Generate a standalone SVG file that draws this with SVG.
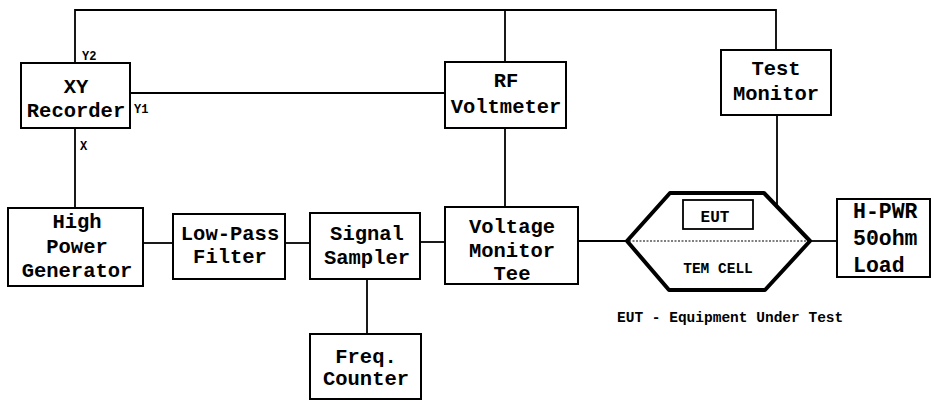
<svg xmlns="http://www.w3.org/2000/svg" width="932" height="401" viewBox="0 0 932 401">
<style>
.box{fill:#fff;stroke:#000;stroke-width:2}
.ln{fill:none;stroke:#000;stroke-width:1.8}
.dot{fill:none;stroke:#000;stroke-width:1.2;stroke-dasharray:2 1.5}
text{font-family:"Liberation Mono","DejaVu Sans Mono",monospace;font-weight:bold;fill:#000}
.t{font-size:20.5px;text-anchor:middle}
.s{font-size:12px}
.m{font-size:14.5px}
</style>
<rect width="932" height="401" fill="#fff"/>
<g id="connectors">
<polyline class="ln" points="75,63 75,10 776,10 776,50"/>
<line class="ln" x1="505" y1="10" x2="505" y2="62"/>
<line class="ln" x1="130" y1="93" x2="445" y2="93"/>
<line class="ln" x1="75" y1="128" x2="75" y2="208"/>
<line class="ln" x1="505" y1="128" x2="505" y2="207"/>
<line class="ln" x1="143" y1="243" x2="173" y2="243"/>
<line class="ln" x1="285" y1="243" x2="310" y2="243"/>
<line class="ln" x1="420" y1="242" x2="445" y2="242"/>
<line class="ln" x1="367" y1="279" x2="367" y2="334"/>
<line class="ln" x1="578" y1="241" x2="627" y2="241"/>
<line class="ln" x1="810" y1="241" x2="837" y2="241"/>
<line class="ln" x1="777" y1="115" x2="777" y2="206"/>
<line class="dot" x1="753" y1="212" x2="778" y2="212"/>
<text class="s" x="82" y="60">Y2</text>
<text class="s" x="134" y="113">Y1</text>
<text class="s" x="80" y="150">X</text>
</g>
<g id="xy-recorder">
<rect class="box" x="21" y="63" width="109" height="65"/>
<text class="t" x="76" y="93">XY</text>
<text class="t" x="76" y="117">Recorder</text>
</g>
<g id="rf-voltmeter">
<rect class="box" x="445" y="62" width="121" height="66"/>
<text class="t" x="506" y="87">RF</text>
<text class="t" x="506" y="113">Voltmeter</text>
</g>
<g id="test-monitor">
<rect class="box" x="721" y="50" width="110" height="65"/>
<text class="t" x="776" y="75">Test</text>
<text class="t" x="776" y="100">Monitor</text>
</g>
<g id="high-power-generator">
<rect class="box" x="8" y="208" width="135" height="78"/>
<text class="t" x="77" y="228">High</text>
<text class="t" x="77" y="253">Power</text>
<text class="t" x="77" y="277">Generator</text>
</g>
<g id="low-pass-filter">
<rect class="box" x="173" y="214" width="112" height="65"/>
<text class="t" x="230" y="240">Low-Pass</text>
<text class="t" x="230" y="263">Filter</text>
</g>
<g id="signal-sampler">
<rect class="box" x="310" y="213" width="110" height="66"/>
<text class="t" x="367" y="240">Signal</text>
<text class="t" x="367" y="264">Sampler</text>
</g>
<g id="freq-counter">
<rect class="box" x="310" y="334" width="111" height="65"/>
<text class="t" x="366" y="363">Freq.</text>
<text class="t" x="366" y="385">Counter</text>
</g>
<g id="voltage-monitor-tee">
<rect class="box" x="445" y="207" width="133" height="77"/>
<text class="t" x="512" y="233">Voltage</text>
<text class="t" x="512" y="257">Monitor</text>
<text class="t" x="512" y="280">Tee</text>
</g>
<g id="tem-cell">
<polygon points="627,241 670,193 764,193 810,241 765,290 669,290" fill="#fff" stroke="#000" stroke-width="4" stroke-linejoin="round"/>
<line class="dot" x1="629" y1="241" x2="808" y2="241"/>
<text class="m" x="718" y="273" text-anchor="middle">TEM CELL</text>
</g>
<g id="eut">
<rect x="683" y="200" width="70" height="29" fill="#fff" stroke="#000" stroke-width="1.8"/>
<text x="715" y="222" font-size="16" text-anchor="middle">EUT</text>
</g>
<g id="load">
<rect class="box" x="837" y="199" width="93" height="78"/>
<text x="853" y="218" font-size="21.5">H-PWR</text>
<text x="853" y="245" font-size="21.5">50ohm</text>
<text x="853" y="272" font-size="21.5">Load</text>
</g>
<text class="m" x="617" y="322" font-size="14">EUT - Equipment Under Test</text>
</svg>
